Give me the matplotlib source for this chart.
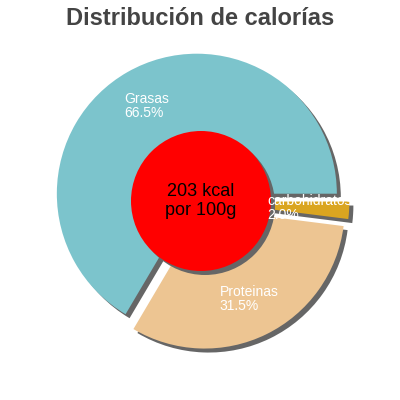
import matplotlib
matplotlib.use('Agg')
import matplotlib.pyplot as plt
from matplotlib.patches import Circle

categories = ['Grasas', 'Proteinas', 'carbohidratos']
values = [66.5, 31.5, 2.0]
colors = ['#7cc4cc', '#edc592', '#daa520']
kcal_text = '203 kcal\npor 100g'
title = 'Distribución de calorías'

plt.rcParams['font.family'] = ['Liberation Sans', 'DejaVu Sans']

fig = plt.figure(figsize=(4, 4), dpi=100)
ax = fig.add_axes([0, 0, 1, 1])
R = 140.0          # pie radius in pixels
sh = 4 / R         # shadow offset
explode = [0.06] * len(values)

# shadow pie
ax.pie(values, explode=explode, colors=['#666666'] * len(values), startangle=0,
       counterclock=True, center=(sh, -sh), radius=1,
       wedgeprops=dict(linewidth=0, zorder=1))

labels = [f'{c}\n{v:.1f}%' for c, v in zip(categories, values)]
wedges, texts = ax.pie(values, explode=explode, colors=colors, startangle=0,
                       counterclock=True, center=(0, 0), radius=1,
                       labels=labels, labeldistance=0.72,
                       wedgeprops=dict(linewidth=0, zorder=2),
                       textprops=dict(color='white', fontsize=10))
for t in texts:
    t.set_ha('center')
    t.set_va('center')
    t.set_multialignment('left')
    t.set_linespacing(1.0)
    t.set_zorder(10)

ax.add_patch(Circle((sh, -sh), 0.5, facecolor='#666666', edgecolor='none', zorder=3))
ax.add_patch(Circle((0, 0), 0.5, facecolor='#ff0000', edgecolor='none', zorder=4))
ax.text(0, 0, kcal_text, ha='center', va='center', fontsize=13, color='black', zorder=11)

ax.set_xlim(-201 / R, 199 / R)
ax.set_ylim(-199 / R, 201 / R)
ax.set_aspect('equal')
ax.axis('off')

fig.text(0.5, 1 - 25 / 400, title, ha='center', va='baseline', fontsize=17,
         fontweight='bold', color='#444444')

fig.savefig('out.png', dpi=100)
